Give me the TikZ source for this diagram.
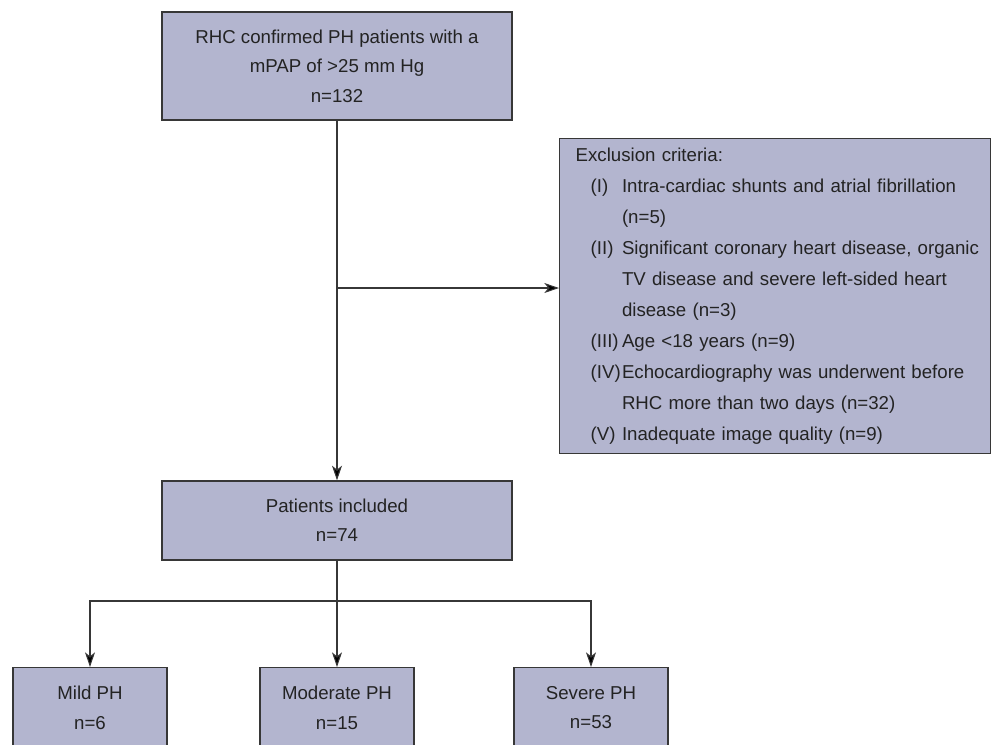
\documentclass[tikz,border=0pt]{standalone}
\usepackage{fontspec}
\setmainfont{Liberation Sans}
\usetikzlibrary{arrows.meta, positioning}
\definecolor{boxLilac}{RGB}{179,181,207}
\definecolor{edgeGray}{RGB}{55,55,55}
\definecolor{inkGray}{RGB}{35,35,35}
\newcommand{\critem}[2]{\mbox{\hspace*{11.25pt}\makebox[23.5pt][l]{#1}#2}}
\newcommand{\crcont}[1]{\mbox{\hspace*{34.75pt}#1}}

\begin{document}
\begin{tikzpicture}[x=0.75pt, y=-0.75pt,
  font=\fontsize{14}{22}\selectfont, text=inkGray,
  bx/.style={draw=edgeGray, line width=1pt, fill=boxLilac, align=center, inner sep=0pt},
  cn/.style={draw=edgeGray, line width=0.8pt, -{Stealth[length=11pt,width=7.5pt,inset=3pt,fill=black]}}]

  \useasboundingbox (0,0) rectangle (991,744);
  \clip (0,0) rectangle (991,744);

  \node[bx, minimum width=262.5pt, minimum height=81pt] (rhc) at (337,66)
    {RHC confirmed PH patients with a\\ mPAP of >25 mm Hg\\ n=132};
  \node[bx, minimum width=262.5pt, minimum height=59.25pt] (incl) at (337,520.5)
    {Patients included\\ n=74};

  \node[bx, align=left, anchor=north west, minimum width=323.25pt, text width=299.25pt,
        inner xsep=12pt, inner ysep=7pt, font=\fontsize{14}{23.25}\selectfont] (excl) at (559,138)
    {Exclusion criteria:\\
     \critem{(I)}{Intra-cardiac shunts and atrial fibrillation}\\
     \crcont{(n=5)}\\
     \critem{(II)}{Significant coronary heart disease, organic}\\
     \crcont{TV disease and severe left-sided heart}\\
     \crcont{disease (n=3)}\\
     \critem{(III)}{Age <18 years (n=9)}\\
     \critem{(IV)}{Echocardiography was underwent before}\\
     \crcont{RHC more than two days (n=32)}\\
     \critem{(V)}{Inadequate image quality (n=9)}};

  \node[bx, minimum width=115.5pt, minimum height=60pt, anchor=north] (mild) at (90,667)
    {Mild PH\\ n=6};
  \node[bx, minimum width=115.5pt, minimum height=60pt, anchor=north] (moder) at (337,667)
    {Moderate PH\\ n=15};
  \node[bx, minimum width=115.5pt, minimum height=60pt, anchor=north] (severe) at (591,667)
    {Severe PH\\ n=53};

  % main flow
  \draw[cn] (rhc.south) -- (incl.north);
  \coordinate (split) at (rhc.south |- 0,288);
  \draw[cn] (split) -- (split -| excl.west);

  % groups
  \coordinate (fork) at (incl.south |- 0,601);
  \draw[cn] (incl.south) -- (moder.north);
  \draw[cn] (fork) -| (mild.north);
  \draw[cn] (fork) -| (severe.north);

\end{tikzpicture}
\end{document}
